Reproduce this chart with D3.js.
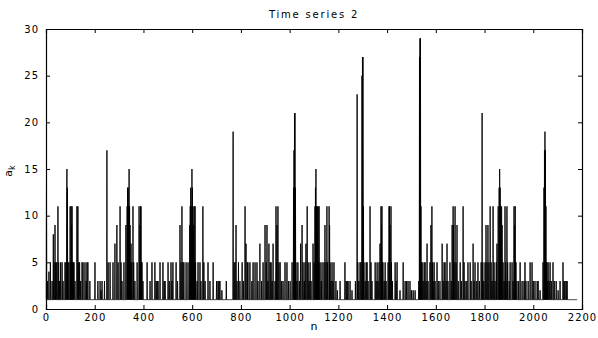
<!DOCTYPE html>
<html>
<head>
<meta charset="utf-8">
<script src="https://cdn.jsdelivr.net/npm/d3@7"></script>
<style>
  body { margin: 0; background: #fff; }
  text { font-family: "DejaVu Sans", sans-serif; fill: #000; }
  .tick text { font-size: 10px; letter-spacing: 1px; }
</style>
</head>
<body>
<div id="chart"></div>
<script>
var margin = { top: 29, right: 16, bottom: 29, left: 46 },
    width = 598 - margin.left - margin.right,
    height = 338 - margin.top - margin.bottom;

// series: a_k sits at 1 except at these samples
var baseValue = 1;
var nFirst = 1, nLast = 2180;
var spikeN = [
    2, 6, 12, 18, 25, 30, 33, 37, 40, 44, 49, 52, 56, 60, 66, 70, 78, 82, 85, 86, 88, 90, 94, 99, 101, 103, 105, 107, 109, 112, 115, 119, 127, 130, 131, 134, 138, 142, 148, 152, 160, 165, 168, 172, 180,
    201, 213, 222, 226, 230, 240, 250, 255, 263, 275, 283, 291, 296, 304, 308, 312, 320, 328, 333, 335, 337, 339, 341, 343, 345, 347, 349, 352, 357, 360, 365, 374, 382, 384, 386, 388, 390, 392, 394, 398,
    415, 427, 435, 447, 452, 456, 460, 468, 480, 485, 489, 501, 506, 513, 517, 521, 534, 540, 550, 554, 558, 562, 566, 575, 583, 590, 592, 594, 596, 599, 601, 603, 606, 608, 610, 612, 614, 620, 624, 632, 636, 644, 648, 653,
    665, 673, 686, 700, 706, 710, 714, 722, 740, 768, 772, 776, 780, 784, 790, 796,
    805, 810, 817, 821, 826, 829, 837, 845, 850, 858, 866, 870, 878, 885, 891, 899, 904, 907, 911, 915, 920, 924, 928, 932, 940, 944, 946, 948, 952, 956, 961, 967, 973, 981, 989, 995,
    1002, 1010, 1016, 1018, 1020, 1022, 1024, 1026, 1030, 1034, 1040, 1045, 1051, 1055, 1060, 1063, 1067, 1072, 1076, 1080, 1084, 1088, 1096, 1100, 1104, 1106, 1108, 1110, 1112, 1114, 1117, 1119, 1121, 1125, 1130, 1133, 1141, 1145, 1149, 1153, 1156, 1162, 1164, 1166, 1170, 1174, 1178, 1182, 1190, 1196,
    1207, 1227, 1232, 1236, 1240, 1248, 1256, 1270, 1277, 1280, 1284, 1289, 1293, 1297, 1299, 1301, 1303, 1305, 1310, 1314, 1318, 1322, 1330, 1334, 1338, 1351, 1355, 1359, 1363, 1367, 1371, 1375, 1377, 1379, 1381, 1383, 1388, 1392, 1396,
    1404, 1408, 1410, 1412, 1416, 1418, 1422, 1433, 1437, 1441, 1453, 1466, 1474, 1480, 1486, 1494, 1500, 1507, 1515, 1530, 1533, 1535, 1537, 1539, 1541, 1544, 1548, 1552, 1556, 1560, 1564, 1568, 1576, 1580, 1584, 1587, 1589, 1593, 1597,
    1605, 1610, 1617, 1626, 1630, 1634, 1638, 1642, 1646, 1650, 1658, 1663, 1667, 1671, 1673, 1675, 1679, 1683, 1687, 1692, 1700, 1705, 1712, 1716, 1720, 1727, 1732, 1741, 1745, 1753, 1757, 1761, 1768, 1773, 1779, 1786, 1790, 1793, 1797,
    1802, 1806, 1810, 1814, 1818, 1823, 1827, 1831, 1835, 1839, 1843, 1848, 1851, 1856, 1860, 1862, 1864, 1866, 1868, 1870, 1872, 1876, 1880, 1884, 1886, 1888, 1892, 1895, 1901, 1905, 1913, 1917, 1921, 1923, 1926, 1929, 1933, 1940, 1946, 1954, 1962, 1966, 1970, 1979, 1987, 1995, 2000,
    2007, 2016, 2020, 2028, 2040, 2044, 2046, 2048, 2050, 2052, 2054, 2056, 2058, 2061, 2065, 2069, 2074, 2081, 2086, 2094, 2102, 2110, 2122, 2126, 2130, 2135, 2139
];
var spikeA = [
    13, 3, 4, 5, 3, 8, 5, 9, 5, 5, 11, 5, 3, 5, 5, 3, 5, 5, 13, 15, 13, 5, 5, 11, 5, 11, 9, 11, 5, 5, 5, 3, 11, 5, 11, 5, 5, 3, 5, 5, 5, 3, 5, 5, 3,
    5, 3, 3, 2, 3, 3, 17, 5, 5, 5, 7, 9, 5, 11, 5, 3, 5, 9, 11, 13, 13, 11, 15, 11, 9, 5, 7, 5, 11, 5, 3, 5, 11, 5, 9, 11, 11, 5, 5, 3,
    5, 3, 5, 5, 3, 3, 3, 5, 5, 3, 3, 5, 3, 5, 3, 5, 5, 3, 9, 5, 11, 5, 5, 5, 5, 9, 11, 13, 11, 15, 13, 11, 9, 11, 5, 11, 5, 3, 5, 5, 3, 11, 5, 3,
    5, 3, 5, 3, 3, 3, 3, 2, 3, 19, 5, 5, 9, 3, 5, 3,
    5, 3, 11, 7, 5, 5, 5, 3, 5, 5, 5, 3, 7, 3, 5, 9, 5, 9, 3, 7, 5, 5, 3, 7, 3, 11, 5, 9, 11, 5, 5, 3, 3, 5, 5, 3,
    3, 5, 13, 17, 21, 21, 13, 5, 3, 5, 3, 7, 9, 5, 3, 5, 7, 11, 5, 3, 5, 3, 7, 5, 11, 13, 15, 11, 9, 11, 11, 5, 11, 5, 3, 5, 5, 9, 5, 11, 5, 11, 9, 5, 3, 5, 3, 5, 3, 2,
    3, 5, 3, 3, 3, 3, 2, 3, 23, 5, 3, 5, 5, 25, 27, 27, 11, 5, 3, 5, 5, 3, 11, 5, 3, 5, 3, 5, 3, 5, 7, 11, 9, 11, 5, 5, 3, 5, 3,
    5, 11, 11, 9, 11, 5, 3, 5, 3, 5, 2, 5, 3, 3, 3, 3, 2, 2, 2, 3, 27, 29, 29, 11, 5, 5, 3, 5, 5, 3, 7, 3, 5, 9, 11, 5, 3, 5, 3,
    5, 3, 3, 7, 3, 5, 5, 3, 7, 3, 5, 3, 9, 11, 9, 5, 11, 5, 9, 3, 5, 3, 11, 5, 3, 3, 5, 5, 3, 7, 3, 5, 3, 5, 3, 5, 21, 5, 3,
    5, 9, 5, 9, 5, 11, 5, 3, 11, 5, 3, 5, 7, 11, 13, 15, 13, 11, 5, 11, 9, 5, 3, 11, 5, 3, 11, 5, 3, 5, 5, 3, 11, 9, 11, 5, 3, 3, 5, 3, 3, 5, 3, 3, 5, 5, 3,
    3, 3, 3, 2, 5, 13, 17, 19, 17, 11, 5, 5, 3, 5, 3, 5, 3, 5, 3, 3, 2, 3, 5, 3, 3, 3, 3
];

var xTicks = [0, 200, 400, 600, 800, 1000, 1200, 1400, 1600, 1800, 2000, 2200];
var yTicks = [0, 5, 10, 15, 20, 25, 30];

var spikes = new Map();
spikeN.forEach(function(n, i){ spikes.set(n, spikeA[i]); });

var series = d3.range(nFirst, nLast + 1).map(function(n){
    return { n: n, a: spikes.has(n) ? spikes.get(n) : baseValue };
});

var x = d3.scaleLinear()
    .domain([0, 2200])
    .range([0, width]);

var y = d3.scaleLinear()
    .domain([0, 30])
    .range([height, 0]);

var svg = d3.select("#chart")
    .append("svg")
    .attr("width", 598)
    .attr("height", 338)
    .append("g")
    .attr("transform", "translate(" + margin.left + ", " + margin.top + ")");

//the series
svg.append("path")
    .datum(series)
    .attr("fill", "none")
    .attr("stroke", "#000")
    .attr("stroke-width", 0.9)
    .attr("d", d3.line()
        .x(function(d){ return x(d.n); })
        .y(function(d){ return y(d.a); }));

//axes, ticks pointing inward on all four sides
svg.append("g")
    .attr("transform", "translate(0, " + height + ")")
    .call(d3.axisBottom(x).tickValues(xTicks).tickSize(-4).tickPadding(5).tickFormat(d3.format("d")));

svg.append("g")
    .call(d3.axisTop(x).tickValues(xTicks).tickSize(-4).tickFormat(""));

svg.append("g")
    .call(d3.axisLeft(y).tickValues(yTicks).tickSize(-4).tickPadding(7).tickFormat(d3.format("d")));

svg.append("g")
    .attr("transform", "translate(" + width + ", 0)")
    .call(d3.axisRight(y).tickValues(yTicks).tickSize(-4).tickFormat(""));

svg.selectAll(".domain").attr("stroke", "#000").attr("stroke-width", 1.2);
svg.selectAll(".tick line").attr("stroke", "#000");
svg.selectAll(".tick text").attr("font-family", null).attr("font-size", null);

//title
svg.append("text")
    .attr("x", width / 2)
    .attr("y", -11)
    .attr("text-anchor", "middle")
    .style("font-size", "10px")
    .style("letter-spacing", "1.8px")
    .text("Time series 2");

//x label
svg.append("text")
    .attr("x", width / 2)
    .attr("y", height + 21)
    .attr("text-anchor", "middle")
    .style("font-size", "11px")
    .text("n");

//y label
var yl = svg.append("text")
    .attr("transform", "translate(" + (-34) + ", " + (height / 2 + 2) + ") rotate(-90)")
    .attr("text-anchor", "middle")
    .style("font-size", "11px");
yl.append("tspan").text("a");
yl.append("tspan").attr("dy", "0.35em").style("font-size", "8px").text("k");
</script>
</body>
</html>
